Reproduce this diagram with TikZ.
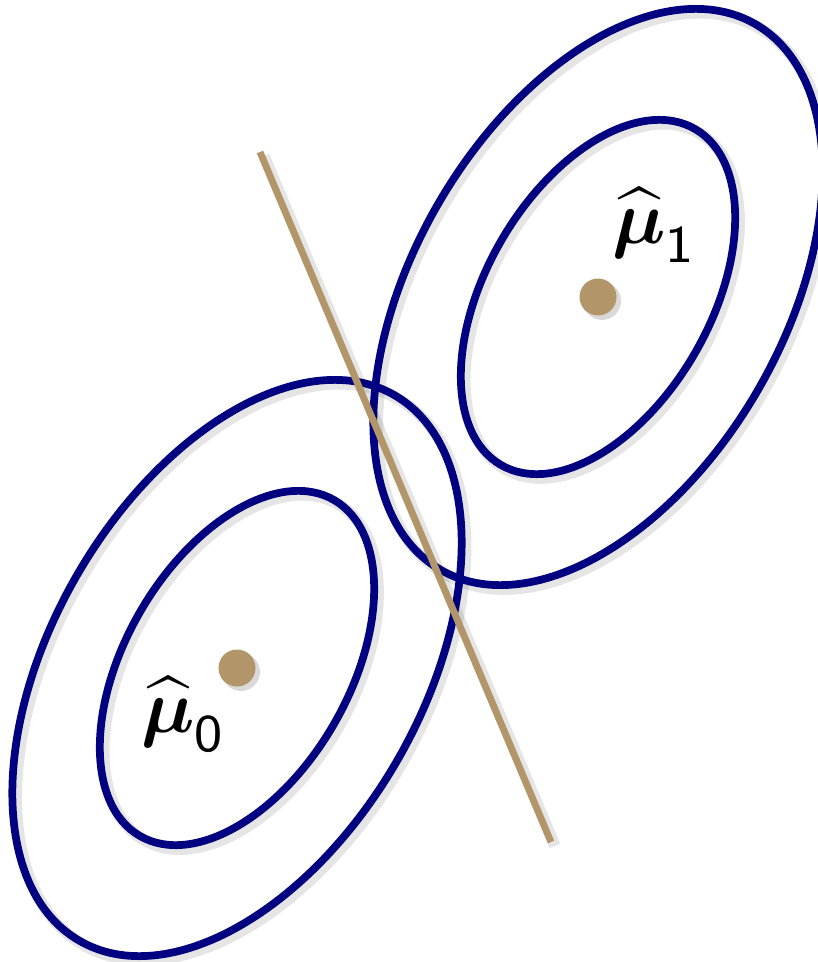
\documentclass[tikz,border=0pt]{standalone}
\usepackage{amsmath,amssymb}
\usepackage{xcolor}
\usepackage{tikz}
\definecolor{contourblue}{RGB}{0,0,128}
\definecolor{meangold}{RGB}{178,149,104}

\begin{document}
\begin{tikzpicture}[
    x=0.02cm, y=-0.02cm,
    contour/.style={draw=contourblue, line width=4.4pt},
    boundary/.style={draw=meangold, line width=3.9pt},
    shade/.style={draw=black, opacity=0.10, line width=6.5pt},
    meandot/.style={circle, fill=meangold, inner sep=0pt, minimum size=0.74cm},
    meanlabel/.style={scale=4.3, inner sep=0pt}
]
    \useasboundingbox (0,0) rectangle (817,962);

    % Class means
    \coordinate (c0) at (237,668);
    \coordinate (c1) at (598,297);
    \coordinate (btop) at (260,152);
    \coordinate (bbot) at (551,842);

    % Shadows
    \foreach \c in {c0,c1} {
        \draw[shade] ([shift={(4,4)}]\c) circle [x radius=315, y radius=185, rotate=60];
        \draw[shade] ([shift={(4,4)}]\c) circle [x radius=194, y radius=112, rotate=60];
    }

    % Contours
    \foreach \c in {c0,c1} {
        \draw[contour] (\c) circle [x radius=315, y radius=185, rotate=60];
        \draw[contour] (\c) circle [x radius=194, y radius=112, rotate=60];
    }

    % Decision boundary
    \draw[shade, line cap=butt] ([shift={(4,4)}]btop) -- ([shift={(4,4)}]bbot);
    \draw[boundary] (btop) -- (bbot);

    % Means
    \fill[black, opacity=0.15] ([shift={(4,4)}]c0) circle (19);
    \fill[black, opacity=0.15] ([shift={(4,4)}]c1) circle (19);
    \node (mu0) [meandot] at (c0) {};
    \node (mu1) [meandot] at (c1) {};
    \node (lab0) [meanlabel] at (184,714) {$\widehat{\boldsymbol{\mu}}_{\mathsf{0}}$};
    \node (lab1) [meanlabel] at (655,225) {$\widehat{\boldsymbol{\mu}}_{\mathsf{1}}$};
\end{tikzpicture}
\end{document}
